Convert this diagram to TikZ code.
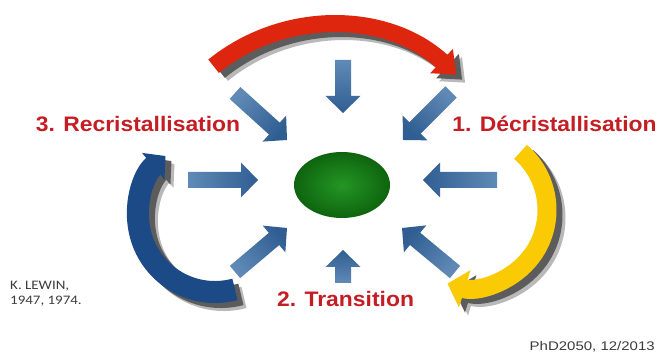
\documentclass[tikz,border=0pt]{standalone}
\usepackage{fontspec}
\setmainfont{Liberation Sans}
\newfontfamily\notefont{Carlito}
\usetikzlibrary{arrows.meta,calc,shapes.geometric}

\definecolor{redarc}{RGB}{222,38,14}
\definecolor{yellowarc}{RGB}{250,203,5}
\definecolor{bluearc}{RGB}{28,74,134}
\definecolor{arrowdark}{RGB}{48,94,146}
\definecolor{arrowlight}{RGB}{96,138,182}
\definecolor{titlered}{RGB}{196,30,36}
\definecolor{greenlight}{RGB}{36,150,36}
\definecolor{greendark}{RGB}{14,100,14}
\definecolor{shadowcore}{RGB}{92,92,92}
\definecolor{shadowsoft}{RGB}{185,185,185}
\definecolor{notegray}{RGB}{60,60,60}

% straight block arrow from tail #1 to tip #2, gradient angle #3
\newcommand\pusharrow[3]{%
  \coordinate (#1-base) at ($(#2)!17pt!(#1)$);
  \shade[top color=arrowdark, bottom color=arrowlight, shading angle=#3]
    ($(#1)!8pt!90:(#2)$) -- ($(#1-base)!8pt!90:(#2)$)
    -- ($(#1-base)!17.5pt!90:(#2)$) -- (#2)
    -- ($(#1-base)!17.5pt!-90:(#2)$) -- ($(#1-base)!8pt!-90:(#2)$)
    -- ($(#1)!8pt!-90:(#2)$) -- cycle;
}

\tikzset{
  title/.style={font=\bfseries\fontsize{21}{25}\selectfont, text=titlered,
    inner sep=0pt, xscale=1.09},
  note/.style={font=\notefont\fontsize{13}{15}\selectfont, text=notegray,
    inner sep=0pt, xscale=1.15, align=left},
  credit/.style={font=\fontsize{12.5}{15}\selectfont, text=notegray,
    inner sep=0pt, xscale=1.2},
}

\begin{document}
\begin{tikzpicture}[x=1pt,y=1pt]
\useasboundingbox (0,0) rectangle (658,352);
\fill[white] (0,0) rectangle (658,352);

% centres of the three cycle bands
\coordinate (redc) at (330,142);
\coordinate (yelc) at (470,142);
\coordinate (bluc) at (215,137);

% soft drop shadows of the bands (lower right)
\foreach \col/\dx/\dy in {shadowsoft/9/-8, shadowcore/6/-5}{
  \draw[\col, line width=17pt, -{Triangle[width=32pt,length=20pt]}]
    ($(redc)+(\dx,\dy)+(129:185pt)$) arc[start angle=129, end angle=47, radius=185pt];
  \draw[\col, line width=19pt, -{Triangle[width=38pt,length=18pt]}]
    ($(yelc)+(\dx,\dy)+(49:77pt)$) arc[start angle=49, end angle=-107, radius=77pt];
  \draw[\col, line width=22pt, -{Triangle[width=34pt,length=16pt]}]
    ($(bluc)+(\dx,\dy)+(-75:77pt)$) arc[start angle=-75, end angle=-230, radius=77pt];
}

% the three cycle bands
\draw[redarc, line width=17pt, -{Triangle[width=32pt,length=20pt]}]
  ($(redc)+(129:185pt)$) arc[start angle=129, end angle=47, radius=185pt];
\draw[yellowarc, line width=19pt, -{Triangle[width=38pt,length=18pt]}]
  ($(yelc)+(49:77pt)$) arc[start angle=49, end angle=-107, radius=77pt];
\draw[bluearc, line width=22pt, -{Triangle[width=34pt,length=16pt]}]
  ($(bluc)+(-75:77pt)$) arc[start angle=-75, end angle=-230, radius=77pt];

% central element
\node[ellipse, minimum width=96pt, minimum height=66pt, inner sep=0pt,
      inner color=greenlight, outer color=greendark] (core) at (342,167) {};

% forces pushing on the centre
\coordinate (tN)  at (343,292); \coordinate (hN)  at (343,239);
\coordinate (tNW) at (235,259); \coordinate (hNW) at (287,212);
\coordinate (tNE) at (451,260); \coordinate (hNE) at (403,212);
\coordinate (tW)  at (188,172); \coordinate (hW)  at (258,172);
\coordinate (tE)  at (497,172); \coordinate (hE)  at (423,172);
\coordinate (tSW) at (235,80);  \coordinate (hSW) at (287,124);
\coordinate (tSE) at (455,80);  \coordinate (hSE) at (402,124);
\coordinate (tS)  at (343,69);  \coordinate (hS)  at (343,102);

\pusharrow{tN}{hN}{180}
\pusharrow{tNW}{hNW}{-132}
\pusharrow{tNE}{hNE}{135}
\pusharrow{tW}{hW}{-90}
\pusharrow{tE}{hE}{90}
\pusharrow{tSW}{hSW}{-50}
\pusharrow{tSE}{hSE}{50}
\pusharrow{tS}{hS}{0}

% stage labels
\node[title, anchor=base] (stage3) at (138,220) {3. Recristallisation};
\node[title, anchor=base] (stage1) at (554.5,220) {1. Décristallisation};
\node[title, anchor=base] (stage2) at (345.5,45) {2. Transition};

% references
\node[note, anchor=base west] (ref1) at (10,62) {K. LEWIN,};
\node[note, anchor=base west] (ref2) at (10,47) {1947, 1974.};
\node[credit, anchor=base east] (credit) at (655,1.5) {PhD2050, 12/2013};
\end{tikzpicture}
\end{document}
